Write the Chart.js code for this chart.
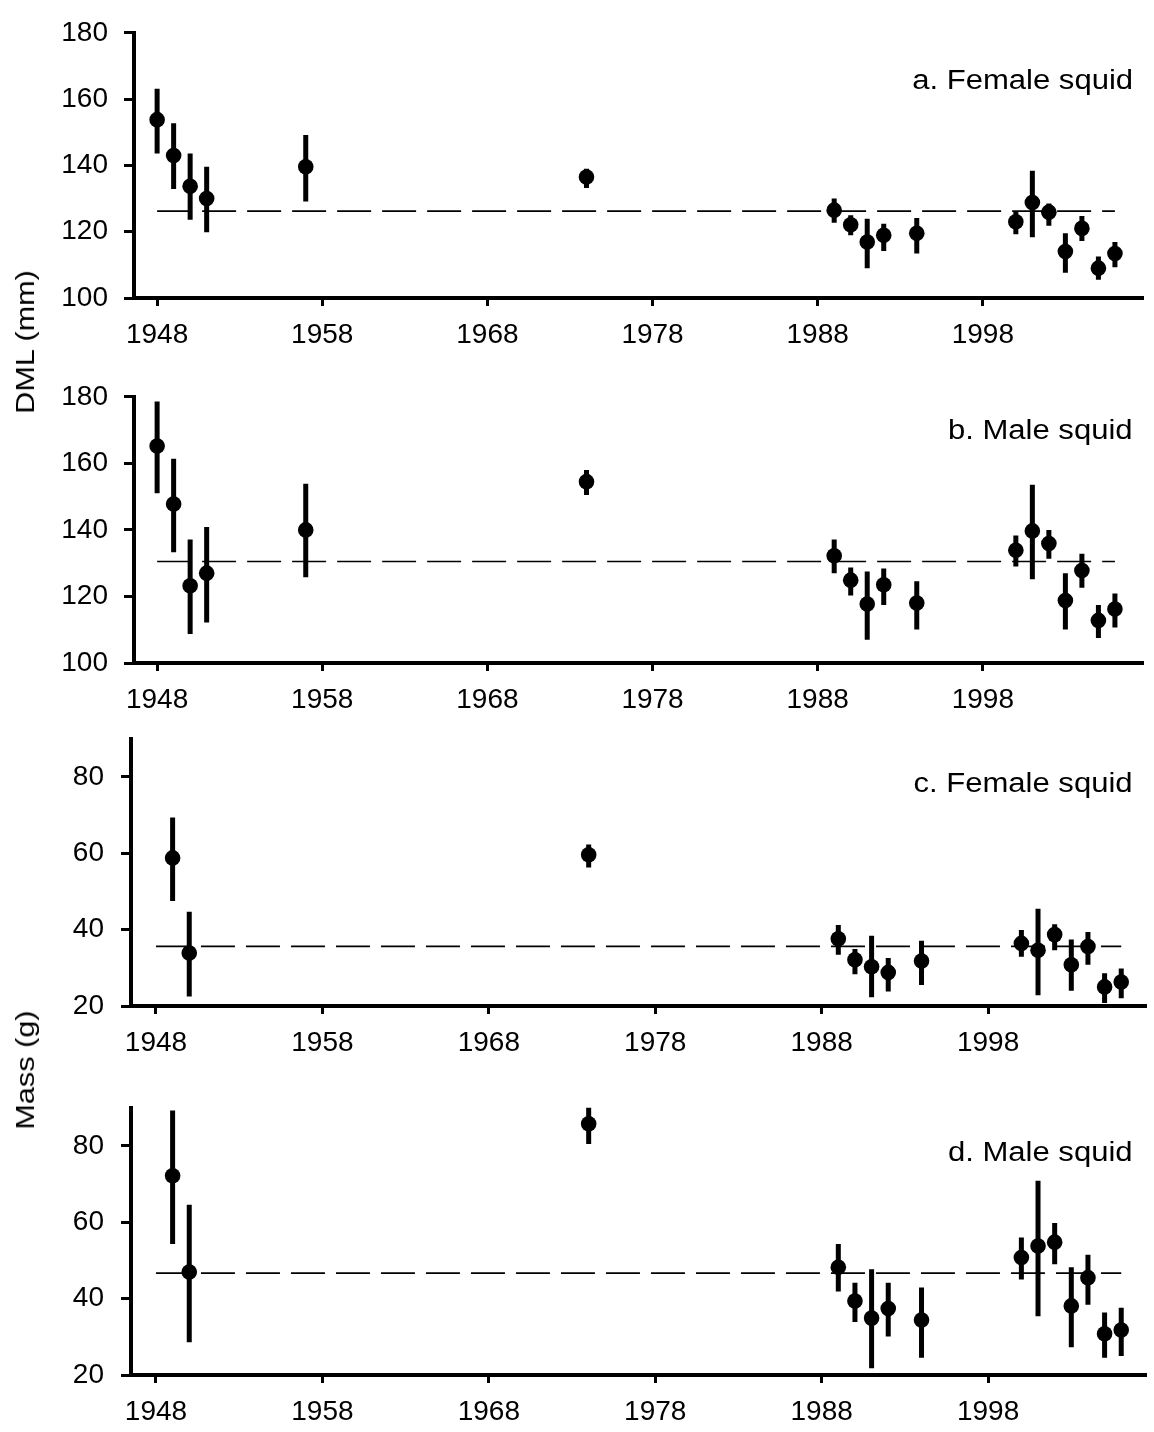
<!DOCTYPE html>
<html lang="en">
<head>
<meta charset="UTF-8">
<title>Squid DML and mass by year</title>
<script src="https://cdn.jsdelivr.net/npm/chart.js"></script>
<style>
  body { margin:0; background:#fff; width:1154px; height:1432px; overflow:hidden; position:relative;
         font-family: Arial, "Liberation Sans", sans-serif; color:#000; }
  .panel { position:absolute; left:0; width:1154px; }
  .lab { position:absolute; right:21px; font-size:27px; line-height:1; white-space:nowrap;
         transform: scaleX(1.15); transform-origin: right center; }
  .ytitle { position:absolute; font-size:26px; line-height:1; white-space:nowrap;
            transform: translate(-50%,-50%) rotate(-90deg) scaleX(1.18); }
</style>
</head>
<body>
  <div class="panel" style="top:0px;height:360px"><canvas id="ca"></canvas></div>
  <div class="panel" style="top:364px;height:361px"><canvas id="cb"></canvas></div>
  <div class="panel" style="top:705px;height:363px"><canvas id="cc"></canvas></div>
  <div class="panel" style="top:1074px;height:363px"><canvas id="cd"></canvas></div>

  <div class="lab" style="top:67px">a. Female squid</div>
  <div class="lab" style="top:417px">b. Male squid</div>
  <div class="lab" style="top:770px">c. Female squid</div>
  <div class="lab" style="top:1139px">d. Male squid</div>

  <div class="ytitle" style="left:25px;top:342px">DML (mm)</div>
  <div class="ytitle" style="left:25px;top:1070px">Mass (g)</div>

<script>
  // years sampled
  const dmlYears  = [1948, 1949, 1950, 1951, 1957, 1974, 1989, 1990, 1991, 1992, 1994, 2000, 2001, 2002, 2003, 2004, 2005, 2006];
  const massYears = [1949, 1950, 1974, 1989, 1990, 1991, 1992, 1994, 2000, 2001, 2002, 2003, 2004, 2005, 2006];

  // a. female DML (mm)
  const femaleDml   = [153.8, 143.0, 133.7, 130.0, 139.6, 136.5, 126.5, 122.1, 116.9, 118.9, 119.5, 123.0, 128.8, 125.9, 114.0, 121.0, 109.0, 113.4];
  const femaleDmlLo = [143.6, 132.9, 123.6, 119.8, 129.1, 133.2, 122.7, 118.9, 109.0, 114.2, 113.4, 119.2, 118.3, 121.8, 107.6, 117.2, 105.5, 109.3];
  const femaleDmlHi = [163.1, 152.7, 143.6, 139.6, 149.2, 139.0, 130.0, 125.0, 123.9, 122.4, 124.1, 126.2, 138.4, 128.5, 119.5, 124.7, 112.5, 116.9];

  // b. male DML (mm)
  const maleDml   = [165.2, 147.8, 123.2, 127.0, 140.0, 154.5, 132.2, 124.9, 117.7, 123.5, 118.0, 133.9, 139.7, 135.9, 118.8, 127.8, 112.8, 116.2];
  const maleDmlLo = [151.0, 133.3, 108.7, 112.2, 125.8, 150.5, 127.0, 120.3, 107.0, 117.4, 110.1, 129.0, 125.2, 131.3, 110.1, 122.6, 107.5, 110.7];
  const maleDmlHi = [178.6, 161.4, 137.1, 140.9, 153.9, 158.0, 137.1, 128.7, 127.5, 128.4, 124.6, 138.3, 153.6, 140.0, 127.0, 132.8, 117.4, 120.9];

  // c. female mass (g)
  const femaleMass   = [58.8, 33.9, 59.6, 37.6, 32.1, 30.3, 28.8, 31.8, 36.4, 34.6, 38.7, 30.8, 35.6, 25.0, 26.3];
  const femaleMassLo = [47.5, 22.5, 56.3, 33.4, 28.3, 22.3, 23.8, 25.5, 32.9, 22.8, 34.6, 24.0, 30.8, 20.8, 22.0];
  const femaleMassHi = [69.4, 44.7, 62.3, 41.2, 34.9, 38.4, 32.6, 37.1, 39.9, 45.5, 41.4, 37.4, 39.4, 28.6, 29.8];

  // d. male mass (g)
  const maleMass   = [72.2, 47.0, 85.8, 48.2, 39.4, 34.9, 37.4, 34.4, 50.8, 53.8, 54.8, 38.1, 45.5, 30.8, 31.8];
  const maleMassLo = [54.3, 28.6, 80.5, 41.9, 33.9, 21.8, 30.1, 24.5, 45.0, 35.4, 49.0, 27.3, 38.4, 24.5, 25.0];
  const maleMassHi = [89.3, 64.6, 90.0, 54.3, 44.2, 47.7, 44.2, 42.9, 56.0, 70.9, 59.8, 48.2, 51.5, 36.4, 37.6];

  // overall means (dashed lines)
  const meanFemaleDml = 126.2, meanMaleDml = 130.5, meanFemaleMass = 35.6, meanMaleMass = 46.7;
  const meanSpan = [1948, 2006];

  const xTicks = [1948, 1958, 1968, 1978, 1988, 1998];
  const dmlTicks = [100, 120, 140, 160, 180];
  const massTicks = [20, 40, 60, 80];

  const FONT = 'Arial, "Liberation Sans", sans-serif';

  function segments(xs, lo, hi) {
    const pts = [];
    xs.forEach((x, i) => { pts.push({x: x, y: lo[i]}, {x: x, y: hi[i]}, {x: x, y: null}); });
    return pts;
  }

  function panel(canvasId, p) {
    const cv = document.getElementById(canvasId);
    cv.width = 1154;
    cv.height = cv.parentNode.clientHeight;
    new Chart(cv.getContext('2d'), {
      type: 'line',
      data: {
        datasets: [
          { data: p.xs.map((x, i) => ({x: x, y: p.vals[i]})), showLine: false,
            pointRadius: 7.8, pointBackgroundColor: '#000', pointBorderWidth: 0, order: 0 },
          { data: segments(p.xs, p.lo, p.hi), borderColor: '#000', borderWidth: 5,
            pointRadius: 0, spanGaps: false, borderCapStyle: 'butt', clip: false, order: 1 },
          { data: meanSpan.map(x => ({x: x, y: p.mean})), borderColor: '#000', borderWidth: 1.7,
            borderDash: [34, 11], pointRadius: 0, order: 2 }
        ]
      },
      options: {
        responsive: false,
        animation: false,
        events: [],
        layout: { padding: { top: 23, right: p.padRight, bottom: 0, left: 0 } },
        plugins: { legend: { display: false }, tooltip: { enabled: false } },
        scales: {
          x: {
            type: 'linear', min: p.xmin, max: p.xmax,
            afterBuildTicks: s => { s.ticks = xTicks.map(v => ({value: v})); },
            afterFit: s => { s.height = 62; },
            grid: { drawOnChartArea: false, tickLength: 8, tickColor: '#000', tickWidth: 3 },
            border: { color: '#000', width: 4 },
            ticks: { color: '#000', font: { family: FONT, size: 28 }, padding: 12, maxRotation: 0,
                     callback: v => String(v) }
          },
          y: {
            min: p.ymin, max: p.ymax,
            afterBuildTicks: s => { s.ticks = p.yTicks.map(v => ({value: v})); },
            afterFit: s => { s.width = p.yWidth; },
            grid: { drawOnChartArea: false, tickLength: 10, tickColor: '#000', tickWidth: 3 },
            border: { color: '#000', width: 4 },
            ticks: { color: '#000', font: { family: FONT, size: 28 }, padding: p.yPad,
                     callback: v => String(v) }
          }
        }
      }
    });
  }

  panel('ca', { xs: dmlYears, vals: femaleDml, lo: femaleDmlLo, hi: femaleDmlHi, mean: meanFemaleDml,
                xmin: 1946.6, xmax: 2007.7, ymin: 100, ymax: 180, yTicks: dmlTicks, yWidth: 134, yPad: 16, padRight: 11 });
  panel('cb', { xs: dmlYears, vals: maleDml, lo: maleDmlLo, hi: maleDmlHi, mean: meanMaleDml,
                xmin: 1946.6, xmax: 2007.7, ymin: 100, ymax: 180, yTicks: dmlTicks, yWidth: 134, yPad: 16, padRight: 11 });
  panel('cc', { xs: massYears, vals: femaleMass, lo: femaleMassLo, hi: femaleMassHi, mean: meanFemaleMass,
                xmin: 1946.5, xmax: 2007.5, ymin: 20, ymax: 90, yTicks: massTicks, yWidth: 131, yPad: 17, padRight: 0 });
  panel('cd', { xs: massYears, vals: maleMass, lo: maleMassLo, hi: maleMassHi, mean: meanMaleMass,
                xmin: 1946.5, xmax: 2007.5, ymin: 20, ymax: 90, yTicks: massTicks, yWidth: 131, yPad: 17, padRight: 0 });
</script>
</body>
</html>
